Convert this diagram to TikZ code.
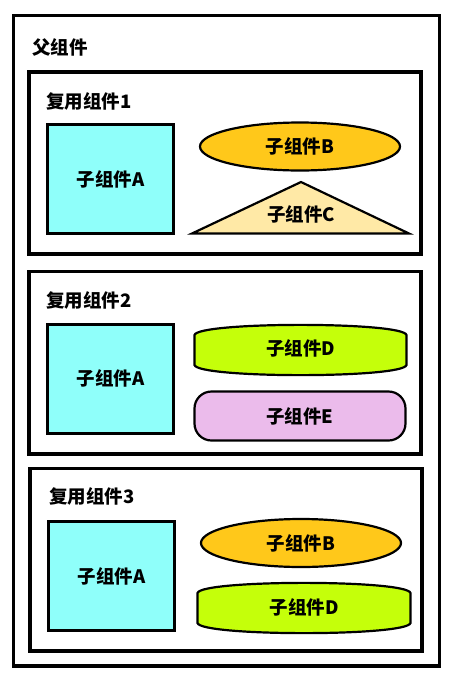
\documentclass[tikz,border=0pt]{standalone}
\usepackage{fontspec}
\setmainfont{Noto Sans CJK SC}
\usetikzlibrary{shapes.geometric}
\definecolor{cyanA}{HTML}{8FFFFA}
\definecolor{goldB}{HTML}{FFC81A}
\definecolor{paleC}{HTML}{FFE9A6}
\definecolor{limeD}{HTML}{C5FF0A}
\definecolor{pinkE}{HTML}{EBBBEB}
\tikzset{
  lbl/.style={font=\fontsize{18.5}{20}\selectfont\bfseries, inner sep=0pt},
  frame/.style={draw=black, line width=3.2pt, fill=white},
  sqbox/.style={draw=black, line width=3pt, fill=cyanA},
  shp/.style={draw=black, line width=2.2pt},
}
\begin{document}
\begin{tikzpicture}[x=1pt,y=-1pt]
\useasboundingbox (0,0) rectangle (453,681);
\fill[white] (0,0) rectangle (453,681);
% outer
\draw[frame] (13.5,15.5) rectangle (439.5,666);
\node[lbl, anchor=west] (parent) at (32,47) {父组件};
% box 1
\draw[frame] (29,72) rectangle (421,254);
\node[lbl, anchor=west] (r1) at (46,101) {复用组件1};
\node[sqbox, lbl, minimum width=126pt, minimum height=109pt] (a1) at (110.5,179) {子组件A};
\node[shp, lbl, ellipse, fill=goldB, minimum width=200pt, minimum height=48pt] (b1) at (300,146.5) {子组件B};
\draw[shp, fill=paleC, line join=miter] (192,233.5) -- (301,182) -- (409,233.5) -- cycle;
\node[lbl] (c1) at (301,214) {子组件C};
% box 2
\draw[frame] (29,271.5) rectangle (421,454);
\node[lbl, anchor=west] (r2) at (46,300) {复用组件2};
\node[sqbox, lbl, minimum width=126pt, minimum height=109pt] (a2) at (110.5,378.5) {子组件A};
\draw[shp, fill=limeD] (194.5,335) .. controls (198,321.5) and (403,321.5) .. (406.5,335) -- (406.5,365) .. controls (403,378.5) and (198,378.5) .. (194.5,365) -- cycle;
\node[lbl] (d2) at (300.5,348) {子组件D};
\node[shp, lbl, rounded corners=17pt, fill=pinkE, minimum width=211pt, minimum height=49pt] (e2) at (300,416) {子组件E};
% box 3
\draw[frame] (30,468.5) rectangle (422,651);
\node[lbl, anchor=west] (r3) at (49,496) {复用组件3};
\node[sqbox, lbl, minimum width=126pt, minimum height=109pt] (a3) at (111.5,576) {子组件A};
\node[shp, lbl, ellipse, fill=goldB, minimum width=200pt, minimum height=48pt] (b3) at (301,543) {子组件B};
\draw[shp, fill=limeD] (197.5,593) .. controls (201,579.5) and (407,579.5) .. (410.5,593) -- (410.5,623) .. controls (407,636.5) and (201,636.5) .. (197.5,623) -- cycle;
\node[lbl] (d3) at (304,607) {子组件D};
\end{tikzpicture}
\end{document}
